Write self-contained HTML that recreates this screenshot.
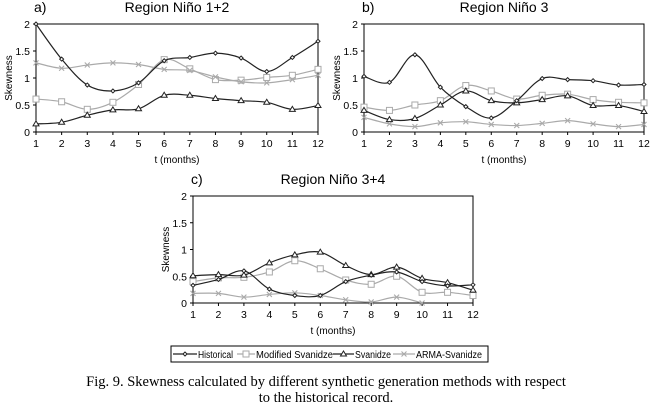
<!DOCTYPE html>
<html><head><meta charset="utf-8"><style>
body{margin:0;background:#fff;}
svg{display:block;font-family:"Liberation Sans",sans-serif;}
</style></head><body>
<svg id="c" width="652" height="406" viewBox="0 0 652 406">
<text x="326" y="386" text-anchor="middle" font-family="Liberation Serif,serif" font-size="14.5">Fig. 9. Skewness calculated by different synthetic generation methods with respect</text>
<text x="326" y="402" text-anchor="middle" font-family="Liberation Serif,serif" font-size="14.5">to the historical record.</text>
</svg>
<script>
const months=[1,2,3,4,5,6,7,8,9,10,11,12];
const yTicks=[0,0.5,1,1.5,2];
const yTickLabels=["0","0.5","1","1.5","2"];
const seriesNames=["Historical","Modified Svanidze","Svanidze","ARMA-Svanidze"];
const aHist=[2.0,1.35,0.87,0.76,0.91,1.32,1.38,1.46,1.37,1.12,1.38,1.68];
const aMod=[0.61,0.56,0.42,0.55,0.88,1.34,1.17,0.97,0.96,1.01,1.05,1.16];
const aSv=[0.15,0.18,0.31,0.41,0.43,0.68,0.68,0.62,0.58,0.55,0.42,0.49];
const aArma=[1.28,1.18,1.24,1.28,1.25,1.16,1.14,1.02,0.93,0.91,0.97,1.05];
const bHist=[1.03,0.92,1.43,0.83,0.47,0.26,0.58,0.99,0.97,0.95,0.87,0.88];
const bMod=[0.46,0.40,0.50,0.58,0.86,0.76,0.61,0.68,0.70,0.60,0.55,0.54];
const bSv=[0.40,0.23,0.25,0.50,0.76,0.58,0.54,0.60,0.67,0.49,0.49,0.38];
const bArma=[0.27,0.15,0.10,0.17,0.19,0.14,0.12,0.16,0.21,0.15,0.10,0.14];
const cHist=[0.33,0.44,0.60,0.26,0.14,0.14,0.40,0.52,0.58,0.40,0.32,0.34];
const cMod=[0.40,0.47,0.48,0.58,0.79,0.64,0.43,0.35,0.50,0.20,0.20,0.14];
const cSv=[0.51,0.53,0.52,0.75,0.90,0.95,0.70,0.53,0.67,0.46,0.38,0.24];
const cArma=[0.18,0.18,0.11,0.16,0.19,0.14,0.06,0.02,0.11,0.0,null,null];

const NS="http://www.w3.org/2000/svg";
const svg=document.getElementById('c');
function mk(tag,attrs,parent){const e=document.createElementNS(NS,tag);for(const k in attrs)e.setAttribute(k,attrs[k]);(parent||svg).appendChild(e);return e;}
const colors=["#222","#aaa","#222","#aaa"];

function marker(g,kind,x,y,col){
  let m;
  if(kind===0){m=mk('path',{d:`M${x} ${y-2}L${x+2} ${y}L${x} ${y+2}L${x-2} ${y}Z`,fill:'#fff',stroke:col,'stroke-width':1},g);}
  else if(kind===1){m=mk('rect',{x:x-3,y:y-3,width:6,height:6,fill:'#fff',stroke:col,'stroke-width':1},g);}
  else if(kind===2){m=mk('path',{d:`M${x} ${y-3}L${x+3} ${y+2}L${x-3} ${y+2}Z`,fill:'#fff',stroke:col,'stroke-width':1},g);}
  else{m=mk('path',{d:`M${x-2.5} ${y-2.5}L${x+2.5} ${y+2.5}M${x+2.5} ${y-2.5}L${x-2.5} ${y+2.5}`,stroke:col,'stroke-width':1.1},g);}
  
  
}
function smooth(pts){
  let d=`M${pts[0][0]} ${pts[0][1]}`;
  for(let i=0;i<pts.length-1;i++){
    const p0=pts[i-1]||pts[i],p1=pts[i],p2=pts[i+1],p3=pts[i+2]||p2;
    const c1=[p1[0]+(p2[0]-p0[0])/6,p1[1]+(p2[1]-p0[1])/6];
    const c2=[p2[0]-(p3[0]-p1[0])/6,p2[1]-(p3[1]-p1[1])/6];
    d+=`C${c1[0]} ${c1[1]} ${c2[0]} ${c2[1]} ${p2[0]} ${p2[1]}`;
  }
  return d;
}
function panel(name,label,title,x0,x1,yTop,yBot,series){
  const g=mk('g',{});
  
  
  const sx=v=>x0+(v-1)*(x1-x0)/11;
  const sy=v=>yBot-v*(yBot-yTop)/2;
  const frame=mk('rect',{x:x0,y:yTop,width:x1-x0,height:yBot-yTop,fill:'none',stroke:'#000','stroke-width':1},g);
  
  yTicks.forEach((t,i)=>{
    mk('line',{x1:x0-3,x2:x0,y1:sy(t),y2:sy(t),stroke:'#000'},g);
    const tx=mk('text',{x:x0-6,y:sy(t)+4,'text-anchor':'end','font-size':10.5},g);tx.textContent=yTickLabels[i];
    
  });
  months.forEach(m=>{
    mk('line',{x1:sx(m),x2:sx(m),y1:yBot,y2:yBot+3,stroke:'#000'},g);
    const tx=mk('text',{x:sx(m),y:yBot+15,'text-anchor':'middle','font-size':10.5},g);tx.textContent=m;
    
  });
  const xt=mk('text',{x:(x0+x1)/2,y:yBot+31,'text-anchor':'middle','font-size':10},g);xt.textContent='t (months)';
  
  const yt=mk('text',{x:0,y:0,'text-anchor':'middle','font-size':10,transform:`translate(${x0-24},${(yTop+yBot)/2}) rotate(-90)`},g);yt.textContent='Skewness';
  
  const tt=mk('text',{x:(x0+x1)/2,y:yTop-12,'text-anchor':'middle','font-size':14},g);tt.textContent=title;
  
  const lb=mk('text',{x:x0-2,y:yTop-12,'font-size':14},g);lb.textContent=label;
  
  [1,3,2,0].forEach(k=>{
    const vals=series[k];
    const pts=[];vals.forEach((v,i)=>{if(v!==null)pts.push([sx(months[i]),sy(v)]);});
    const p=mk('path',{d:smooth(pts),fill:'none',stroke:colors[k],'stroke-width':1.2},g);
    
    
    pts.forEach(q=>marker(g,k,q[0],q[1],colors[k]));
  });
}
panel('panel-nino-1-2','a)','Region Niño 1+2',36,318,24,132,[aHist,aMod,aSv,aArma]);
panel('panel-nino-3','b)','Region Niño 3',364,644,24,132,[bHist,bMod,bSv,bArma]);
panel('panel-nino-3-4','c)','Region Niño 3+4',193,473,196,303,[cHist,cMod,cSv,cArma]);

// legend
const lg=mk('g',{});


mk('rect',{x:171,y:346,width:317,height:16,fill:'#fff',stroke:'#000','stroke-width':1},lg);
const lineSeg=[[173,197],[237,255],[333,354],[393,415]];
const txt=[[198,35],[256,77],[355,36],[416,66]];
seriesNames.forEach((n,k)=>{
  const e=mk('g',{},lg);
  
  
  mk('line',{x1:lineSeg[k][0],x2:lineSeg[k][1],y1:354,y2:354,stroke:colors[k],'stroke-width':1.2},e);
  marker(e,k,(lineSeg[k][0]+lineSeg[k][1])/2,354,colors[k]);
  const t=mk('text',{x:txt[k][0],y:358,'font-size':10,textLength:txt[k][1],lengthAdjust:'spacingAndGlyphs'},e);t.textContent=n;
});
</script>
</body></html>
